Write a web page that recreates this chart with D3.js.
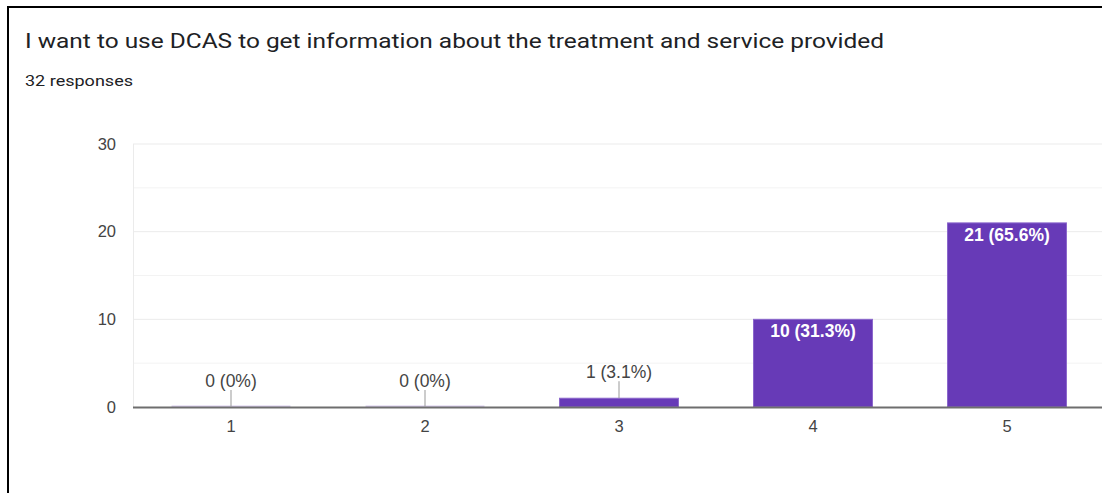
<!DOCTYPE html>
<html>
<head>
<meta charset="utf-8">
<script src="https://cdn.jsdelivr.net/npm/d3@7"></script>
<style>
  html, body { margin: 0; padding: 0; background: #fff; }
  svg { display: block; }
</style>
</head>
<body>
<svg id="chart" width="1102" height="493"></svg>
<script>
// Survey question and answer counts on a 1–5 scale
const titleText = "I want to use DCAS to get information about the treatment and service provided";
const responsesText = "32 responses";
const categories = ["1", "2", "3", "4", "5"];
const counts = [0, 0, 1, 10, 21];
const yTicks = [0, 10, 20, 30];
const yMinorTicks = [5, 15, 25];

const total = d3.sum(counts);
const pctFmt = d3.format(".1~f");
const labelOf = v => `${v} (${pctFmt(v / total * 100)}%)`;

const svg = d3.select("#chart");
const W = 1102, H = 493;
const plot = { left: 134, right: 1104, top: 144, bottom: 407 };
const barColor = "#673ab7";

// Card frame (top and left edges)
svg.append("line").attr("x1", 8).attr("x2", W).attr("y1", 7).attr("y2", 7)
  .attr("stroke", "#000").attr("stroke-width", 2);
svg.append("line").attr("x1", 8).attr("x2", 8).attr("y1", 6).attr("y2", H)
  .attr("stroke", "#000").attr("stroke-width", 2);

// Header
svg.append("text")
  .attr("x", 25).attr("y", 48)
  .attr("font-family", "Roboto, Arial, sans-serif")
  .attr("font-size", 20)
  .attr("fill", "#202124")
  .attr("textLength", 859).attr("lengthAdjust", "spacingAndGlyphs")
  .text(titleText);

svg.append("text")
  .attr("x", 25).attr("y", 86)
  .attr("font-family", "Roboto, Arial, sans-serif")
  .attr("font-size", 15.5)
  .attr("fill", "#202124")
  .attr("textLength", 108).attr("lengthAdjust", "spacingAndGlyphs")
  .text(responsesText);

// Scales
const x = d3.scaleBand()
  .domain(categories)
  .range([plot.left, plot.right])
  .paddingInner(0.387)
  .paddingOuter(0.387 / 2);

const y = d3.scaleLinear()
  .domain([0, 30])
  .range([plot.bottom, plot.top]);

// Gridlines
const g = svg.append("g");
g.selectAll("line.minor").data(yMinorTicks).join("line")
  .attr("class", "minor")
  .attr("x1", plot.left - 1).attr("x2", W)
  .attr("y1", d => y(d)).attr("y2", d => y(d))
  .attr("stroke", "#f3f3f3").attr("stroke-width", 1);
g.selectAll("line.major").data(yTicks.filter(d => d !== 0)).join("line")
  .attr("class", "major")
  .attr("x1", plot.left - 1).attr("x2", W)
  .attr("y1", d => y(d)).attr("y2", d => y(d))
  .attr("stroke", "#ebebeb").attr("stroke-width", 1);
g.append("line")
  .attr("x1", plot.left - 0.5).attr("x2", plot.left - 0.5)
  .attr("y1", y(30)).attr("y2", y(0))
  .attr("stroke", "#ebebeb").attr("stroke-width", 1);

// Y axis labels
const yAxis = d3.axisLeft(y).tickValues(yTicks).tickSize(0).tickPadding(0);
const ya = svg.append("g").attr("transform", `translate(${plot.left - 18},0)`).call(yAxis);
ya.select(".domain").remove();
ya.selectAll("text")
  .attr("font-family", "Arial, 'Liberation Sans', sans-serif")
  .attr("font-size", 16.5)
  .attr("fill", "#444");

// Bars
const data = categories.map((c, i) => ({ c, v: counts[i] }));
svg.append("g").selectAll("rect").data(data).join("rect")
  .attr("x", d => x(d.c))
  .attr("width", x.bandwidth())
  .attr("y", d => d.v > 0 ? y(d.v) : y(0) - 1.5)
  .attr("height", d => d.v > 0 ? y(0) - y(d.v) : 1.5)
  .attr("fill", d => d.v > 0 ? barColor : "#d9cdee")
  .attr("stroke", d => d.v > 0 ? "#8a66cc" : "none")
  .attr("stroke-width", 1);

// Baseline
svg.append("line")
  .attr("x1", plot.left - 1).attr("x2", W)
  .attr("y1", y(0) + 0.5).attr("y2", y(0) + 0.5)
  .attr("stroke", "#6e6e6e").attr("stroke-width", 2);

// X axis labels
const xAxis = d3.axisBottom(x).tickSize(0).tickPadding(0);
const xa = svg.append("g").attr("transform", `translate(0,${y(0) + 13})`).call(xAxis);
xa.select(".domain").remove();
xa.selectAll("text")
  .attr("font-family", "Arial, 'Liberation Sans', sans-serif")
  .attr("font-size", 16.5)
  .attr("fill", "#444");

// Value labels: inside tall bars, above short bars with a leader line
const insideMin = 5;
const lbl = svg.append("g")
  .attr("font-family", "Arial, 'Liberation Sans', sans-serif")
  .attr("font-size", 17.5)
  .attr("text-anchor", "middle");

data.forEach(d => {
  const cx = x(d.c) + x.bandwidth() / 2;
  const top = y(d.v);
  if (d.v >= insideMin) {
    lbl.append("text")
      .attr("x", cx).attr("y", top + 18)
      .attr("fill", "#fff")
      .attr("font-weight", "bold")
      .text(labelOf(d.v));
  } else {
    lbl.append("line")
      .attr("x1", cx).attr("x2", cx)
      .attr("y1", top - 17).attr("y2", top)
      .attr("stroke", "#999").attr("stroke-width", 1);
    lbl.append("text")
      .attr("x", cx).attr("y", top - 20)
      .attr("fill", "#444")
      .text(labelOf(d.v));
  }
});
</script>
</body>
</html>
